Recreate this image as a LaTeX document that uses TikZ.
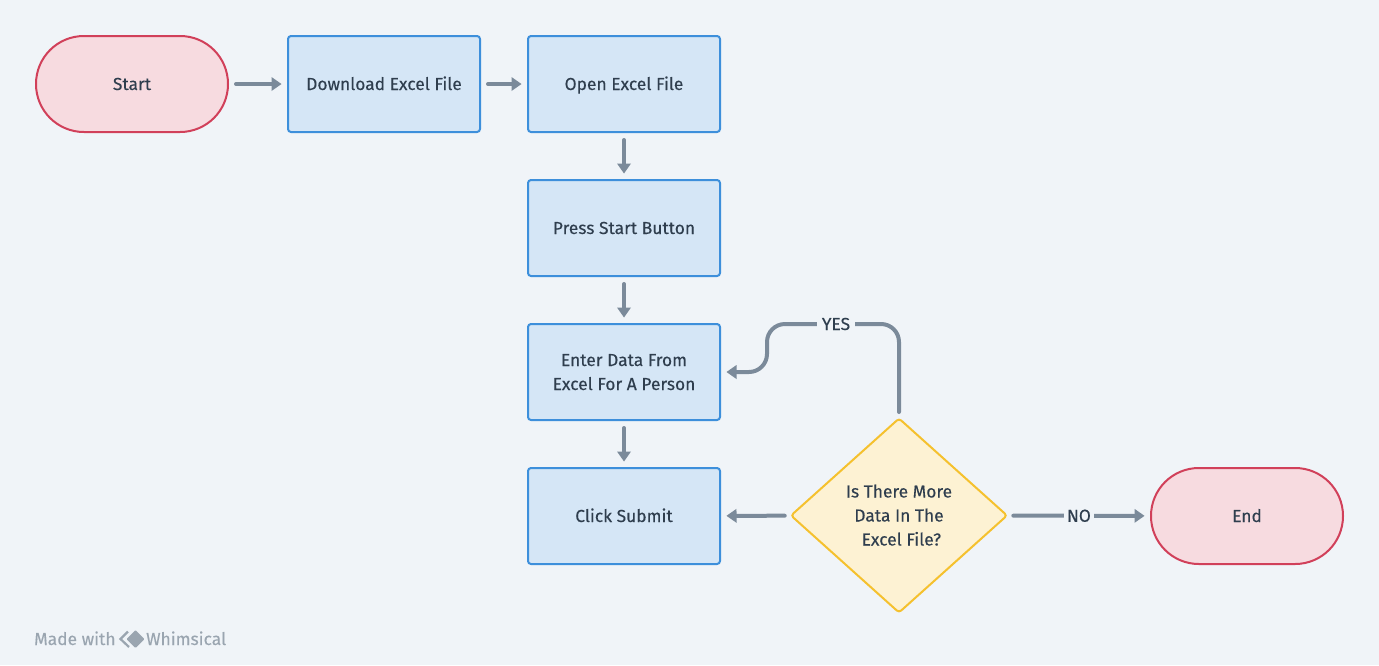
\documentclass[tikz,border=0pt]{standalone}
\usepackage{fontspec}
\setmainfont[FakeBold=0.25]{Fira Sans}
\usetikzlibrary{shapes.geometric,arrows.meta}
\definecolor{bgc}{HTML}{F0F4F8}
\definecolor{ink}{HTML}{2F3E4E}
\definecolor{conc}{HTML}{7B8A9A}
\definecolor{bluel}{HTML}{3D8FDB}
\definecolor{bluef}{HTML}{D5E6F6}
\definecolor{redl}{HTML}{D1405A}
\definecolor{redf}{HTML}{F7DBE0}
\definecolor{yell}{HTML}{F5C12E}
\definecolor{yelf}{HTML}{FDF2D3}
\definecolor{wm}{HTML}{9AA5B0}
\newcommand{\ls}{\rule{0pt}{18pt}\rule[-6pt]{0pt}{6pt}}
\tikzset{
  x=1pt,y=-1pt,
  base/.style={line width=2pt,text=ink,font=\fontsize{17.4}{24}\selectfont,align=center,inner sep=0pt,outer sep=0pt},
  procbox/.style={base,draw=bluel,fill=bluef,rectangle,rounded corners=3pt,minimum width=192pt,minimum height=96pt},
  term/.style={base,draw=redl,fill=redf,rectangle,rounded corners=47.9pt,minimum width=192pt,minimum height=96pt},
  decide/.style={base,draw=yell,fill=yelf,diamond,rounded corners=3pt,minimum width=216pt,minimum height=194pt,shape aspect=1.115},
  conn/.style={line width=4pt,draw=conc,line cap=round,shorten <=8pt,shorten >=6.5pt,-{Triangle[length=10pt,width=14pt,line width=0pt,round]}},
  fromdec/.style={shorten <=6.5pt},
  lab/.style={text=ink,font=\fontsize{17.4}{24}\selectfont,fill=bgc,inner sep=0pt,outer sep=0pt,minimum width=38pt,minimum height=20pt},
  wmark/.style={text=wm,font=\fontsize{17.4}{20}\selectfont,inner sep=0pt,anchor=base west},
}
\begin{document}
\begin{tikzpicture}
\useasboundingbox[fill=bgc] (0,0) rectangle (1379,665);
\node[term] (start) at (132,84) {\ls Start};
\node[procbox] (dl) at (384,84) {\ls Download Excel File};
\node[procbox] (open) at (624,84) {\ls Open Excel File};
\node[procbox] (press) at (624,228) {\ls Press Start Button};
\node[procbox] (enter) at (624,372) {\ls Enter Data From\\\ls Excel For A Person};
\node[procbox] (click) at (624,516) {\ls Click Submit};
\node[decide] (dec) at (899,515.5) {\ls Is There More\\\ls Data In The\\\ls\ Excel File?};
\node[term] (end) at (1247,516) {\ls End};
\coordinate (c1) at (899,324);
\coordinate (c2) at (767,324);
\coordinate (c3) at (767,372);
\draw[conn] (start) -- (dl);
\draw[conn] (dl) -- (open);
\draw[conn] (open) -- (press);
\draw[conn] (press) -- (enter);
\draw[conn] (enter) -- (click);
\draw[conn,fromdec] (dec) -- (click);
\draw[conn,fromdec] (dec) -- node[lab,minimum width=30pt] (no) {\ls NO} (end);
\draw[conn,fromdec,rounded corners=18pt] (dec.north) -- (c1) -- (c2) -- (c3) -- (enter.east);
\node[lab] (yes) at (836,324) {\ls YES};
\node[wmark] (made) at (34,645) {Made with};
\node[wmark] (whim) at (146,645) {Whimsical};
\fill[wm,rounded corners=1pt] (135.5,630) -- (144.5,639) -- (135.5,648) -- (126.5,639) -- cycle;
\draw[wm,line width=2.2pt] (128,631.5) -- (120.5,639) -- (129,647);
\end{tikzpicture}
\end{document}
